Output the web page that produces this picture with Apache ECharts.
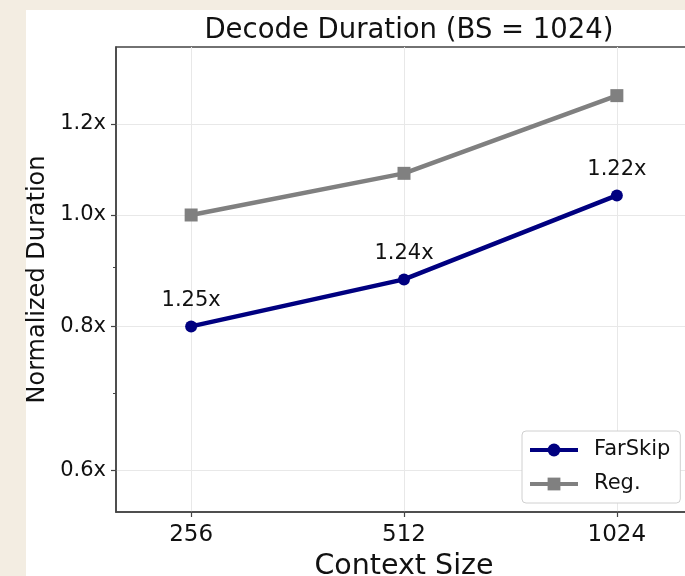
<!DOCTYPE html>
<html>
<head>
<meta charset="utf-8">
<script src="https://cdn.jsdelivr.net/npm/echarts@6/dist/echarts.min.js"></script>
<style>
  html, body { margin: 0; padding: 0; background: #f3ede2; }
  #chart { width: 685px; height: 576px; }
</style>
</head>
<body>
<div id="chart"></div>
<script>
// Context sizes on the x axis
const contextSizes = ['256', '512', '1024'];
// Normalized decode duration per context size
const farSkip = [0.80, 0.879, 1.04];
const regular = [1.00, 1.087, 1.27];
// Y tick labels (log scale)
const yMajorTicks = [0.6, 0.8, 1.0, 1.2];
const yMinorTicks = [0.7, 0.9];

const FONT = 'DejaVu Sans';
const xPositions = contextSizes.map((_, i) => i);

const chart = echarts.init(document.getElementById('chart'), null, { renderer: 'canvas' });

chart.setOption({
  backgroundColor: '#f3ede2',
  animation: false,
  graphic: [{
    type: 'rect',
    z: -100,
    silent: true,
    shape: { x: 26, y: 10, width: 700, height: 600 },
    style: { fill: '#ffffff' }
  }],
  title: {
    text: 'Decode Duration (BS = 1024)',
    left: 404,
    textAlign: 'center',
    top: 12,
    textStyle: { fontFamily: FONT, fontSize: 27.5, fontWeight: 'normal', color: '#111' }
  },
  grid: {
    left: 116, top: 47, width: 576, height: 465,
    outerBoundsMode: 'none',
    containLabel: false,
    show: true, borderColor: '#444', borderWidth: 1.5, backgroundColor: 'transparent'
  },
  legend: {
    left: 522, top: 431,
    orient: 'vertical',
    itemWidth: 48, itemHeight: 16, itemGap: 12,
    padding: [8, 10, 8, 6],
    backgroundColor: '#ffffff',
    borderColor: '#d0d0d0', borderWidth: 1, borderRadius: 4,
    lineStyle: { width: 4 },
    textStyle: { fontFamily: FONT, fontSize: 21, color: '#111', lineHeight: 22, padding: [0, 0, 0, 11] },
    data: ['FarSkip', 'Reg.']
  },
  xAxis: {
    type: 'value',
    min: -0.353, max: 2.353,
    name: 'Context Size',
    nameLocation: 'middle',
    nameGap: 34,
    nameTextStyle: { fontFamily: FONT, fontSize: 28.5, color: '#111' },
    axisLine: { show: true, onZero: false, lineStyle: { color: '#444', width: 1.5 } },
    axisTick: { show: true, length: 5, lineStyle: { color: '#444', width: 1.2 }, customValues: xPositions },
    axisLabel: {
      customValues: xPositions,
      margin: 12,
      fontFamily: FONT, fontSize: 23, color: '#111',
      formatter: v => contextSizes[Math.round(v)]
    },
    splitLine: { show: true, lineStyle: { color: '#e8e8e8', width: 1 } }
  },
  yAxis: [{
    type: 'log',
    logBase: 10,
    min: 0.5517, max: 1.3999,
    name: 'Normalized Duration',
    nameLocation: 'middle',
    nameGap: 56,
    nameTextStyle: { fontFamily: FONT, fontSize: 24, color: '#111' },
    axisLine: { show: true, onZero: false, lineStyle: { color: '#444', width: 1.5 } },
    axisTick: { show: true, length: 5, lineStyle: { color: '#444', width: 1.2 }, customValues: yMajorTicks },
    axisLabel: {
      customValues: yMajorTicks,
      margin: 10,
      fontFamily: FONT, fontSize: 21, color: '#111',
      formatter: v => v.toFixed(1) + 'x'
    },
    splitLine: { show: true, lineStyle: { color: '#e8e8e8', width: 1 } }
  }, {
    // minor ticks on the same log scale
    type: 'log',
    logBase: 10,
    position: 'left',
    min: 0.5517, max: 1.3999,
    axisLine: { show: false, onZero: false },
    axisTick: { show: true, length: 3, lineStyle: { color: '#444', width: 1 }, customValues: yMinorTicks },
    axisLabel: { show: false },
    splitLine: { show: false }
  }],
  series: [{
    name: 'FarSkip',
    type: 'line',
    z: 3,
    data: xPositions.map((x, i) => [x, farSkip[i]]),
    symbol: 'circle',
    symbolSize: 12,
    color: '#000080',
    lineStyle: { width: 4.5, color: '#000080' },
    itemStyle: { color: '#000080' },
    label: {
      show: true,
      position: 'top',
      distance: 9,
      fontFamily: FONT, fontSize: 21, color: '#111',
      formatter: p => (regular[p.dataIndex] / farSkip[p.dataIndex]).toFixed(2) + 'x'
    }
  }, {
    name: 'Reg.',
    type: 'line',
    z: 2,
    data: xPositions.map((x, i) => [x, regular[i]]),
    symbol: 'rect',
    symbolSize: 13,
    color: '#808080',
    lineStyle: { width: 4.5, color: '#808080' },
    itemStyle: { color: '#808080' }
  }]
});
</script>
</body>
</html>
